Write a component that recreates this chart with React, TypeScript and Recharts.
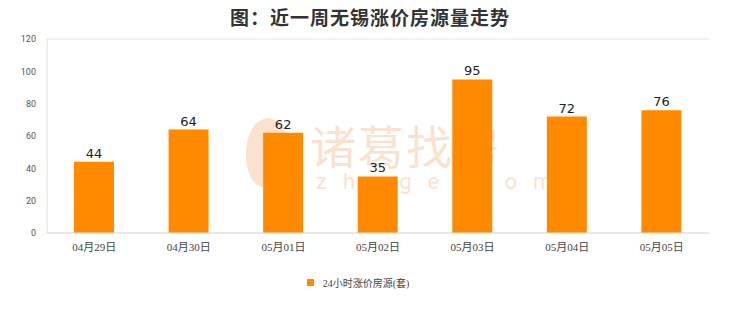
import React from 'react';
import {
  BarChart,
  Bar,
  XAxis,
  YAxis,
  CartesianGrid,
  Legend,
  LabelList,
} from 'recharts';

const dates = ['04月29日', '04月30日', '05月01日', '05月02日', '05月03日', '05月04日', '05月05日'];
const rising = [44, 64, 62, 35, 95, 72, 76];
const yTicks = [0, 20, 40, 60, 80, 100, 120];
const seriesName = '24小时涨价房源(套)';
const titleText = '图：近一周无锡涨价房源量走势';

const data = dates.map((d, i) => ({ date: d, rising: rising[i] }));

const ORANGE = '#FF8A00';
const GRID = '#e6e6e6';

const LegendContent = () => (
  <div
    style={{
      display: 'flex',
      justifyContent: 'center',
      alignItems: 'center',
      height: 16,
      fontSize: 10,
      color: '#444',
      fontFamily: '"Liberation Serif", "Noto Sans CJK SC", serif',
    }}
  >
    <span style={{ display: 'inline-block', width: 7, height: 7, background: ORANGE, marginRight: 9 }} />
    <span>{seriesName}</span>
  </div>
);

export default function App() {
  return (
    <div style={{ position: 'absolute', left: 0, top: 0, width: 740, height: 312, background: '#fff' }}>
      <div
        style={{
          position: 'absolute',
          left: 0,
          top: 3,
          width: 740,
          textAlign: 'center',
          fontSize: 19,
          fontWeight: 700,
          color: '#333',
          fontFamily: '"Noto Sans CJK SC", sans-serif',
          letterSpacing: 1,
        }}
      >
        {titleText}
      </div>
      {/* brand mark behind the plot */}
      <div
        style={{
          position: 'absolute',
          left: 244,
          top: 112,
          width: 270,
          height: 90,
          opacity: 0.3,
          color: '#f0a060',
          fontFamily: '"Noto Sans CJK SC", sans-serif',
          pointerEvents: 'none',
        }}
      >
        <div
          style={{
            position: 'absolute',
            left: 2,
            top: 6,
            width: 44,
            height: 70,
            borderRadius: '50% 50% 45% 45%',
            background: '#f0a060',
          }}
        />
        <div style={{ position: 'absolute', left: 66, top: 11, fontSize: 46, lineHeight: '42px', letterSpacing: 2 }}>
          诸葛找房
        </div>
        <div
          style={{
            position: 'absolute',
            left: 72,
            top: 62,
            fontSize: 22,
            lineHeight: '16px',
            letterSpacing: 16,
            fontFamily: 'Roboto, sans-serif',
          }}
        >
          zhuge.com
        </div>
      </div>
      <div style={{ position: 'absolute', left: 0, top: 0 }}>
        <BarChart
          width={740}
          height={312}
          data={data}
          margin={{ top: 39, right: 31, left: 7, bottom: 22 }}
          barCategoryGap={0}
        >
          <CartesianGrid vertical={false} stroke={GRID} />
          <XAxis
            dataKey="date"
            height={41}
            tickLine={false}
            axisLine={{ stroke: '#dcdcdc' }}
            tick={{ fontSize: 11, fill: '#444', fontFamily: '"Liberation Serif", "Noto Sans CJK SC", serif' }}
            tickMargin={4}
            interval={0}
          />
          <YAxis
            yAxisId="left"
            width={40}
            domain={[0, 120]}
            ticks={yTicks}
            tickLine={false}
            axisLine={{ stroke: '#dcdcdc' }}
            tick={{ fontSize: 9, fill: '#555', fontFamily: 'Roboto, sans-serif' }}
            tickMargin={5}
          />
          <YAxis
            yAxisId="right"
            orientation="right"
            width={0}
            domain={[0, 120]}
            ticks={yTicks}
            tick={false}
            tickLine={false}
            axisLine={{ stroke: GRID }}
          />
          <Legend verticalAlign="bottom" height={16} content={<LegendContent />} />
          <Bar
            yAxisId="left"
            dataKey="rising"
            name={seriesName}
            fill={ORANGE}
            barSize={40}
            isAnimationActive={false}
          >
            <LabelList
              dataKey="rising"
              position="top"
              offset={4}
              style={{ fontSize: 13, fill: '#222', fontFamily: '"DejaVu Sans", sans-serif' }}
            />
          </Bar>
        </BarChart>
      </div>
    </div>
  );
}
